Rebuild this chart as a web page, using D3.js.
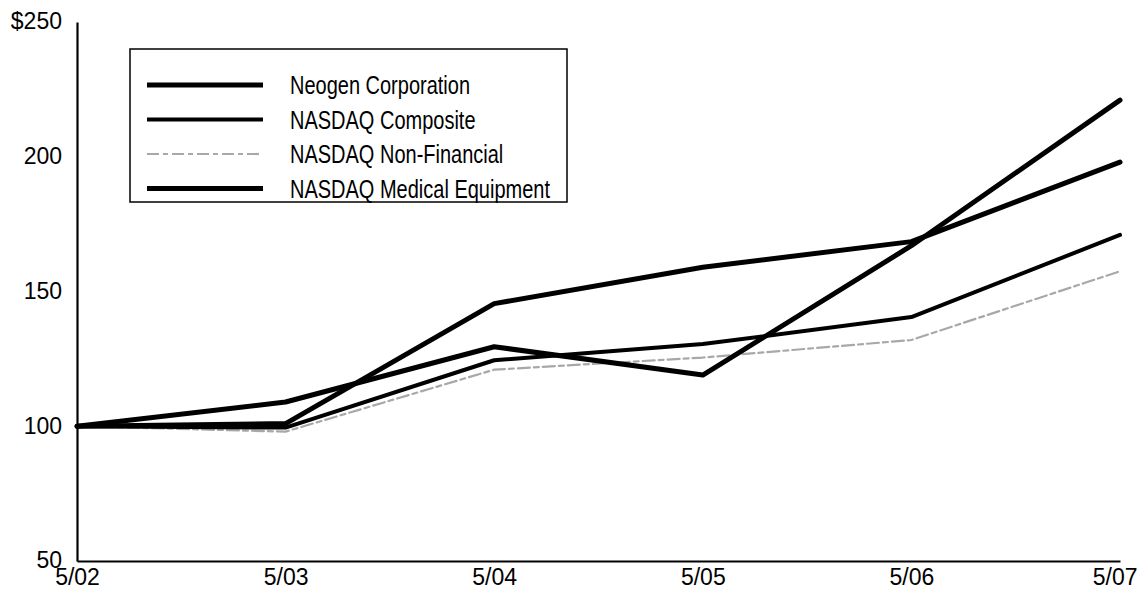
<!DOCTYPE html>
<html>
<head>
<meta charset="utf-8">
<script src="https://cdn.jsdelivr.net/npm/d3@7"></script>
<style>
  html, body { margin: 0; padding: 0; background: #fff; }
  svg text { font-family: "Liberation Sans", Arial, sans-serif; fill: #000; }
</style>
</head>
<body>
<svg id="chart" width="1139" height="591"></svg>
<script>
// Cumulative value of a $100 investment, May 2002 – May 2007
const periods = ["5/02", "5/03", "5/04", "5/05", "5/06", "5/07"];
const neogen = [100, 109, 129.5, 119, 167, 221];
const nasdaqComposite = [100, 99.5, 124.5, 130.5, 140.5, 171];
const nasdaqNonFinancial = [100, 98, 121, 125.5, 132, 157.5];
const nasdaqMedical = [100, 101, 145.5, 159, 168.5, 198];
const yTicks = [50, 100, 150, 200, 250];

const seriesNames = ["Neogen Corporation", "NASDAQ Composite", "NASDAQ Non-Financial", "NASDAQ Medical Equipment"];
const seriesValues = [neogen, nasdaqComposite, nasdaqNonFinancial, nasdaqMedical];
const seriesStyle = [
  { color: "#000", width: 5, dash: null },
  { color: "#000", width: 4, dash: null },
  { color: "#a8a8a8", width: 2.2, dash: "12,4,5,4" },
  { color: "#000", width: 5, dash: null }
];

// lettering sizes; legend text is squeezed horizontally
const AXIS_FONT = 23;
const LEGEND_FONT = 25, LEGEND_SQUEEZE = 0.8;
const WIDTH = 1139;

const svg = d3.select("#chart");

const x = d3.scalePoint().domain(periods).range([77, 1120]);
const y = d3.scaleLinear().domain([50, 250]).range([561, 22]);

// y axis
const yAxis = svg.append("g")
  .attr("transform", `translate(${x.range()[0]},0)`)
  .call(d3.axisLeft(y).tickValues(yTicks).tickSize(0).tickPadding(15)
    .tickFormat(d => d === 250 ? "$" + d : d));
yAxis.select(".domain").attr("stroke", "#000").attr("stroke-width", 2.2);
yAxis.selectAll(".tick text")
  .attr("font-size", AXIS_FONT).attr("dy", "0.3em");

// x axis
const xAxis = svg.append("g")
  .attr("transform", `translate(0,${y(50)})`)
  .call(d3.axisBottom(x).tickSize(0).tickPadding(8));
xAxis.select(".domain").attr("stroke", "#000").attr("stroke-width", 2.2);
xAxis.selectAll(".tick text")
  .attr("font-size", AXIS_FONT).attr("dy", "0.71em")
  .each(function(d) {
    // keep the last label inside the drawing area
    const w = this.getComputedTextLength();
    const right = x(d) + w / 2;
    if (right > WIDTH - 2) {
      d3.select(this).attr("x", -(right - (WIDTH - 2)));
    }
  });

// series lines
const line = d3.line().x((d, i) => x(periods[i])).y(d => y(d));
const drawOrder = [2, 1, 3, 0];
drawOrder.forEach(k => {
  const st = seriesStyle[k];
  svg.append("path")
    .datum(seriesValues[k])
    .attr("d", line)
    .attr("fill", "none")
    .attr("stroke", st.color)
    .attr("stroke-width", st.width)
    .attr("stroke-linejoin", "round")
    .attr("stroke-linecap", "round")
    .attr("stroke-dasharray", st.dash);
});

// legend
const legend = svg.append("g");
legend.append("rect")
  .attr("x", 130).attr("y", 49).attr("width", 437).attr("height", 153)
  .attr("fill", "#fff").attr("stroke", "#000").attr("stroke-width", 1.5);
const rowY = d3.scalePoint().domain(seriesNames).range([85, 188.5]);
seriesNames.forEach((name, k) => {
  const st = seriesStyle[k];
  const yy = rowY(name);
  legend.append("line")
    .attr("x1", 147).attr("x2", 263).attr("y1", yy).attr("y2", yy)
    .attr("stroke", st.color).attr("stroke-width", st.width)
    .attr("stroke-dasharray", st.dash);
  legend.append("g")
    .attr("transform", `translate(290,${yy})`)
    .append("text")
    .attr("dy", "0.36em")
    .attr("font-size", LEGEND_FONT)
    .attr("transform", `scale(${LEGEND_SQUEEZE},1)`)
    .text(name);
});
</script>
</body>
</html>
